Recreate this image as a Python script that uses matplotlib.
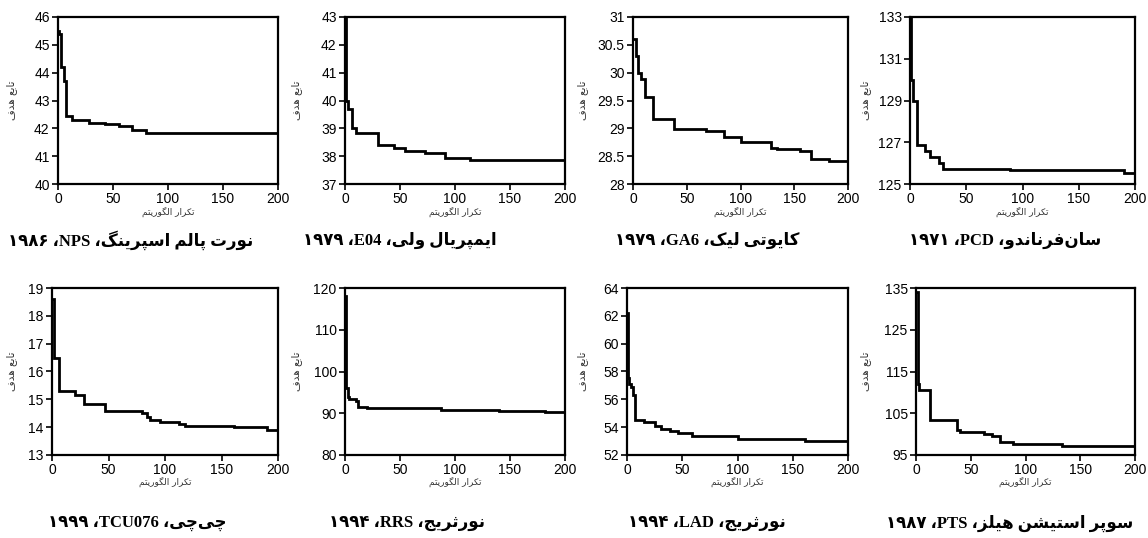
import matplotlib
matplotlib.use("Agg")
import matplotlib.pyplot as plt
from matplotlib.ticker import FuncFormatter

# ---------------- data ----------------
iters_nps = [0, 1, 3, 5, 7, 13, 28, 43, 55, 67, 80, 184, 200]
obj_nps = [45.5, 45.4, 44.2, 43.7, 42.45, 42.3, 42.2, 42.15, 42.1, 41.95, 41.85, 41.82, 41.82]

iters_e04 = [0, 1, 3, 6, 10, 30, 45, 55, 73, 91, 114, 159, 200]
obj_e04 = [43.0, 40.0, 39.7, 39.0, 38.85, 38.4, 38.3, 38.2, 38.1, 37.95, 37.88, 37.85, 37.85]

iters_ga6 = [0, 3, 5, 7, 11, 19, 38, 68, 85, 100, 128, 134, 155, 166, 182, 200]
obj_ga6 = [30.6, 30.3, 30.0, 29.89, 29.57, 29.16, 28.99, 28.95, 28.85, 28.75, 28.65, 28.62, 28.6, 28.45, 28.42, 28.42]

iters_pcd = [0, 1, 3, 6, 13, 18, 26, 29, 89, 190, 200]
obj_pcd = [133.0, 130.0, 129.0, 126.85, 126.6, 126.3, 126.0, 125.72, 125.66, 125.55, 125.55]

iters_tcu = [0, 2, 6, 20, 28, 47, 80, 84, 87, 96, 112, 118, 161, 190, 200]
obj_tcu = [18.6, 16.5, 15.3, 15.15, 14.82, 14.58, 14.5, 14.35, 14.25, 14.2, 14.12, 14.05, 14.0, 13.9, 13.9]

iters_rrs = [0, 1, 3, 4, 10, 12, 20, 87, 140, 182, 200]
obj_rrs = [118.0, 96.0, 94.0, 93.5, 93.0, 91.6, 91.3, 90.7, 90.5, 90.3, 90.3]

iters_lad = [0, 1, 2, 4, 5, 7, 15, 25, 31, 39, 46, 59, 100, 161, 200]
obj_lad = [62.2, 57.5, 57.1, 56.9, 56.3, 54.5, 54.35, 54.05, 53.85, 53.7, 53.55, 53.33, 53.17, 53.0, 53.0]

iters_pts = [0, 2, 3, 12, 13, 37, 40, 62, 69, 77, 89, 133, 200]
obj_pts = [134.0, 112.0, 110.5, 110.5, 103.4, 100.9, 100.5, 100.1, 99.6, 98.2, 97.7, 97.1, 97.1]

captions = [
    "نورت پالم اسپرینگ، NPS، ۱۹۸۶",
    "ایمپریال ولی، E04، ۱۹۷۹",
    "کایوتی لیک، GA6، ۱۹۷۹",
    "سان\u200cفرناندو، PCD، ۱۹۷۱",
    "چی\u200cچی، TCU076، ۱۹۹۹",
    "نورثریج، RRS، ۱۹۹۴",
    "نورثریج، LAD، ۱۹۹۴",
    "سوپر استیشن هیلز، PTS، ۱۹۸۷",
]
ylims = [(40, 46), (37, 43), (28, 31), (125, 133), (13, 19), (80, 120), (52, 64), (95, 135)]
ysteps = [1, 1, 0.5, 2, 1, 10, 2, 10]
xticks = [0, 50, 100, 150, 200]
ylabel_text = "تابع هدف"
xlabel_text = "تکرار الگوریتم"

series = [(iters_nps, obj_nps), (iters_e04, obj_e04), (iters_ga6, obj_ga6), (iters_pcd, obj_pcd),
          (iters_tcu, obj_tcu), (iters_rrs, obj_rrs), (iters_lad, obj_lad), (iters_pts, obj_pts)]

# ---------------- minimal Arabic-script shaping + RTL ordering ----------------
FORMS = {
    '\u0627': ('\uFE8D', '\uFE8E', None, None),
    '\u0622': ('\uFE81', '\uFE82', None, None),
    '\u0628': ('\uFE8F', '\uFE90', '\uFE91', '\uFE92'),
    '\u062A': ('\uFE95', '\uFE96', '\uFE97', '\uFE98'),
    '\u062B': ('\uFE99', '\uFE9A', '\uFE9B', '\uFE9C'),
    '\u062C': ('\uFE9D', '\uFE9E', '\uFE9F', '\uFEA0'),
    '\u062D': ('\uFEA1', '\uFEA2', '\uFEA3', '\uFEA4'),
    '\u062E': ('\uFEA5', '\uFEA6', '\uFEA7', '\uFEA8'),
    '\u062F': ('\uFEA9', '\uFEAA', None, None),
    '\u0630': ('\uFEAB', '\uFEAC', None, None),
    '\u0631': ('\uFEAD', '\uFEAE', None, None),
    '\u0632': ('\uFEAF', '\uFEB0', None, None),
    '\u0633': ('\uFEB1', '\uFEB2', '\uFEB3', '\uFEB4'),
    '\u0634': ('\uFEB5', '\uFEB6', '\uFEB7', '\uFEB8'),
    '\u0639': ('\uFEC9', '\uFECA', '\uFECB', '\uFECC'),
    '\u0641': ('\uFED1', '\uFED2', '\uFED3', '\uFED4'),
    '\u0642': ('\uFED5', '\uFED6', '\uFED7', '\uFED8'),
    '\u0644': ('\uFEDD', '\uFEDE', '\uFEDF', '\uFEE0'),
    '\u0645': ('\uFEE1', '\uFEE2', '\uFEE3', '\uFEE4'),
    '\u0646': ('\uFEE5', '\uFEE6', '\uFEE7', '\uFEE8'),
    '\u0647': ('\uFEE9', '\uFEEA', '\uFEEB', '\uFEEC'),
    '\u0648': ('\uFEED', '\uFEEE', None, None),
    '\u067E': ('\uFB56', '\uFB57', '\uFB58', '\uFB59'),
    '\u0686': ('\uFB7A', '\uFB7B', '\uFB7C', '\uFB7D'),
    '\u0698': ('\uFB8A', '\uFB8B', None, None),
    '\u06A9': ('\uFB8E', '\uFB8F', '\uFB90', '\uFB91'),
    '\u06AF': ('\uFB92', '\uFB93', '\uFB94', '\uFB95'),
    '\u06CC': ('\uFBFC', '\uFBFD', '\uFBFE', '\uFBFF'),
}


def shape(s):
    out = []
    n = len(s)
    for i, c in enumerate(s):
        if c not in FORMS:
            out.append(c)
            continue
        f = FORMS[c]
        prev = s[i - 1] if i > 0 else ''
        nxt = s[i + 1] if i + 1 < n else ''
        jp = prev in FORMS and FORMS[prev][2] is not None
        jn = nxt in FORMS and f[2] is not None
        if jp and jn:
            out.append(f[3])
        elif jp:
            out.append(f[1])
        elif jn:
            out.append(f[2])
        else:
            out.append(f[0])
    return ''.join(ch for ch in out if ch != '\u200c')


def rtl(s):
    s = shape(s)
    runs = []
    for c in s:
        ltr = (c.isascii() and c.isalnum()) or ('\u06f0' <= c <= '\u06f9')
        if runs and ltr and runs[-1][0]:
            runs[-1][1] += c
        else:
            runs.append([ltr, c])
    return ''.join(r[1] for r in reversed(runs))


# ---------------- layout ----------------
W, H = 1148, 538
fig = plt.figure(figsize=(W / 100, H / 100), dpi=100)

col_px = [(58, 278), (345, 565), (633, 848), (910, 1135),
          (52, 278), (345, 565), (627, 848), (916, 1135)]
row_px = [(17, 184), (288, 455)]
ylab_off = [46, 48, 50, 44, 40, 48, 44, 50]
xlab_y = [212, 482]
cap_y = [240, 523]
cap_x = [131, 400, 707, 1005, 137, 407, 707, 1010]

fmt = FuncFormatter(lambda v, p: f"{v:g}")

for i, (xs, ys) in enumerate(series):
    r = i // 4
    l, rgt = col_px[i]
    t, b = row_px[r]
    ax = fig.add_axes([l / W, 1 - b / H, (rgt - l) / W, (b - t) / H])
    ax.step(xs, ys, where='post', color='black', lw=2.0, solid_joinstyle='miter')
    lo, hi = ylims[i]
    ax.set_xlim(0, 200)
    ax.set_ylim(lo, hi)
    st = ysteps[i]
    n = int(round((hi - lo) / st))
    ax.set_yticks([lo + k * st for k in range(n + 1)])
    ax.set_xticks(xticks)
    ax.yaxis.set_major_formatter(fmt)
    ax.xaxis.set_major_formatter(fmt)
    for sp in ax.spines.values():
        sp.set_linewidth(1.6)
        sp.set_color('black')
    ax.tick_params(direction='out', length=4, width=1.2, pad=2, colors='black')
    for lab in ax.get_xticklabels() + ax.get_yticklabels():
        lab.set_fontfamily('Liberation Sans')
        lab.set_fontsize(10)
    # axis titles
    fig.text((l - ylab_off[i]) / W, 1 - (t + b) / 2 / H, rtl(ylabel_text), rotation=90,
             ha='center', va='center', fontsize=7.5, family='DejaVu Sans', color='#333333')
    fig.text((l + rgt) / 2 / W, 1 - xlab_y[r] / H, rtl(xlabel_text), ha='center', va='center',
             fontsize=6.5, family='DejaVu Sans', color='#333333')
    # caption
    fig.text(cap_x[i] / W, 1 - cap_y[r] / H, rtl(captions[i]), ha='center', va='center',
             fontsize=12, fontweight='bold', family=['Liberation Serif', 'DejaVu Sans'],
             color='black')

fig.savefig('out.png', dpi=100, facecolor='white')
